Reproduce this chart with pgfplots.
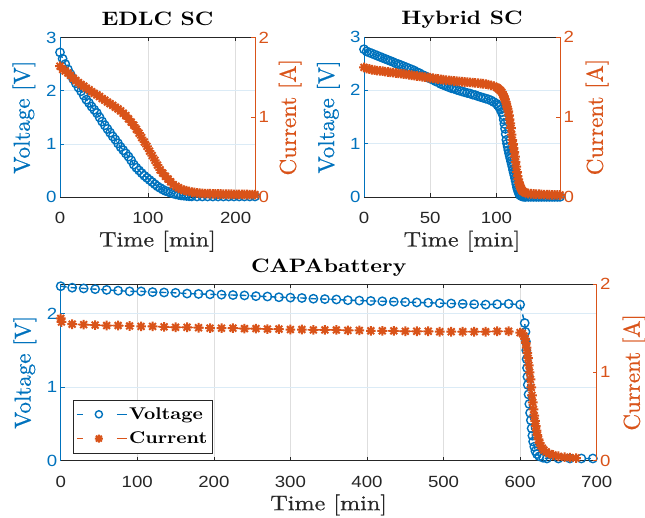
\documentclass[border=0pt]{standalone}
\usepackage{fontspec}
\setmainfont{lmroman10-regular.otf}[BoldFont=lmroman10-bold.otf, FakeStretch=1.15, UprightFeatures={FakeBold=0.6}]
\newfontfamily\vlm{lmroman10-regular.otf}[FakeBold=0.6]
\setsansfont{Liberation Sans}[FakeStretch=1.15]
\usepackage{pgfplots}
\pgfplotsset{compat=1.18}
\definecolor{mblue}{rgb}{0,0.447,0.741}
\definecolor{morange}{rgb}{0.85,0.325,0.098}
\definecolor{mgray}{rgb}{0.15,0.15,0.15}
\pgfdeclareplotmark{mstar}{%
  \pgfpathmoveto{\pgfqpoint{-\pgfplotmarksize}{0pt}}\pgfpathlineto{\pgfqpoint{\pgfplotmarksize}{0pt}}%
  \pgfpathmoveto{\pgfqpoint{0pt}{-\pgfplotmarksize}}\pgfpathlineto{\pgfqpoint{0pt}{\pgfplotmarksize}}%
  \pgfpathmoveto{\pgfqpoint{-.707\pgfplotmarksize}{-.707\pgfplotmarksize}}\pgfpathlineto{\pgfqpoint{.707\pgfplotmarksize}{.707\pgfplotmarksize}}%
  \pgfpathmoveto{\pgfqpoint{-.707\pgfplotmarksize}{.707\pgfplotmarksize}}\pgfpathlineto{\pgfqpoint{.707\pgfplotmarksize}{-.707\pgfplotmarksize}}%
  \pgfusepathqstroke}
\pgfplotsset{
  base/.style={scale only axis, anchor=south west, clip=true,
    tick align=inside, major tick length=4pt,
    /pgf/number format/assume math mode=true,
    ticklabel style={font=\sffamily\fontsize{16.2}{16.2}\selectfont},
    xticklabel shift=12pt,
    xlabel style={font=\fontsize{21}{22}\selectfont, at={(axis description cs:0.5,0)}, anchor=base, yshift=-49.5pt, text=mgray},
    ylabel style={font=\vlm\fontsize{23}{24}\selectfont},
    title style={font=\bfseries\fontsize{19.4}{20}\selectfont, at={(axis description cs:0.5,1)}, anchor=base, yshift=6pt},
  },
  leftax/.style={base, axis x line*=box, axis y line*=left,
    x axis line style={mgray, line width=0.6pt}, y axis line style={mblue, line width=0.6pt},
    xtick style={mgray, line width=0.6pt}, ytick style={mblue, line width=0.6pt},
    xticklabel style={text=mgray}, yticklabel style={text=mblue},
    ylabel style={text=mblue, rotate=0},
    grid=major, x grid style={black!13, line width=0.5pt}, y grid style={mblue!14, line width=0.5pt}},
  rightax/.style={base, axis x line=none, axis y line*=right,
    y axis line style={morange, line width=0.6pt}, ytick style={morange, line width=0.6pt},
    yticklabel style={text=morange}, ylabel style={text=morange, rotate=0},
    ymin=0, ymax=2, ytick={0,1,2}},
  vstyle/.style={mblue, line width=1.4pt, dash pattern=on 6pt off 4pt, mark=o, mark size=4.2pt, mark options={solid, line width=1.4pt}},
  istyle/.style={morange, line width=1.4pt, dash pattern=on 6pt off 4pt, mark=mstar, mark size=4.8pt, mark options={solid, line width=2pt}},
}
\begin{document}
\begin{tikzpicture}
\useasboundingbox (0,0) rectangle (645pt,517pt);
% ---------------- EDLC SC ----------------
\begin{axis}[leftax, at={(60pt,320pt)}, width=195pt, height=159.5pt,
  xmin=0, xmax=222, ymin=0, ymax=3, xtick={0,100,200}, ytick={0,1,2,3},
  title={EDLC SC}, xlabel={Time [min]}, ylabel={Voltage [V]},
  ylabel style={at={(axis description cs:-0.185,0.5)}, anchor=center}]
\addplot[vstyle] coordinates {
(0,2.72)(3,2.60)(6,2.50)(9,2.40)(12,2.31)(15,2.22)(18,2.14)(21,2.06)(24,1.99)(27,1.91)
(30,1.83)(33,1.77)(36,1.70)(39,1.64)(42,1.58)(45,1.50)(48,1.42)(51,1.35)(54,1.28)(57,1.21)
(60,1.14)(63,1.08)(66,1.01)(69,0.94)(72,0.88)(75,0.82)(78,0.76)(81,0.69)(84,0.61)(87,0.55)
(90,0.50)(93,0.45)(96,0.40)(99,0.36)(102,0.32)(105,0.28)(108,0.24)(111,0.20)(114,0.17)(117,0.14)
(120,0.115)(123,0.10)(126,0.08)(129,0.065)(132,0.05)(135,0.04)(138,0.03)(141,0.025)(144,0.02)(147,0.015)
(150,0.012)(156,0.01)(162,0.01)(168,0.01)(174,0.01)(180,0.01)(186,0.01)(192,0.01)(198,0.01)(204,0.01)
(210,0.01)(216,0.01)(222,0.01)};
\end{axis}
\begin{axis}[rightax, at={(60pt,320pt)}, width=195pt, height=159.5pt,
  xmin=0, xmax=222, ylabel={Current [A]},
  ylabel style={at={(axis description cs:1.18,0.5)}, anchor=center}]
\addplot[istyle] coordinates {
(0,1.64)(3,1.60)(6,1.58)(9,1.555)(12,1.525)(15,1.49)(18,1.46)(21,1.435)(24,1.41)(27,1.39)
(30,1.365)(33,1.345)(36,1.32)(39,1.30)(42,1.28)(45,1.26)(48,1.235)(51,1.215)(54,1.19)(57,1.17)
(60,1.15)(63,1.125)(66,1.105)(69,1.08)(72,1.05)(75,1.02)(78,0.98)(81,0.94)(84,0.90)(87,0.85)
(90,0.80)(93,0.745)(96,0.69)(99,0.635)(102,0.575)(105,0.52)(108,0.46)(111,0.40)(114,0.34)(117,0.30)
(120,0.26)(123,0.225)(126,0.19)(129,0.155)(132,0.135)(135,0.115)(138,0.097)(141,0.087)(144,0.078)(147,0.07)
(150,0.062)(153,0.056)(156,0.052)(159,0.049)(162,0.046)(165,0.043)(168,0.042)(171,0.041)(174,0.04)(177,0.039)
(180,0.038)(183,0.037)(186,0.036)(189,0.035)(192,0.035)(195,0.034)(198,0.033)(201,0.033)(204,0.032)(207,0.032)
(210,0.031)(213,0.031)(216,0.03)(219,0.03)(222,0.03)};
\end{axis}
% ---------------- Hybrid SC ----------------
\begin{axis}[leftax, at={(364pt,320pt)}, width=196pt, height=160pt,
  xmin=0, xmax=148, ymin=0, ymax=3, xtick={0,50,100}, ytick={0,1,2,3},
  title={Hybrid SC}, xlabel={Time [min]}, ylabel={Voltage [V]},
  ylabel style={at={(axis description cs:-0.182,0.5)}, anchor=center}]
\addplot[vstyle] coordinates {
(0,2.77)(2,2.73)(4,2.71)(6,2.69)(8,2.67)(10,2.65)(12,2.63)(14,2.61)(16,2.59)(18,2.57)
(20,2.55)(22,2.53)(24,2.505)(26,2.49)(28,2.47)(30,2.45)(32,2.43)(34,2.41)(36,2.39)(38,2.37)
(40,2.34)(42,2.32)(44,2.29)(46,2.27)(48,2.245)(50,2.22)(52,2.20)(54,2.17)(56,2.15)(58,2.12)
(60,2.10)(62,2.08)(64,2.06)(66,2.04)(68,2.03)(70,2.01)(72,1.995)(74,1.98)(76,1.965)(78,1.95)
(80,1.94)(82,1.92)(84,1.91)(86,1.89)(88,1.875)(90,1.86)(92,1.845)(94,1.83)(96,1.81)(98,1.78)
(100,1.75)(101,1.72)(102,1.69)(103,1.64)(104,1.59)(105,1.53)(105.5,1.45)(106,1.37)(106.5,1.28)(107,1.18)
(107.5,1.07)(108,1.00)(108.5,0.94)(109,0.88)(109.5,0.82)(110,0.77)(110.5,0.72)(111,0.67)(111.5,0.62)(112,0.57)
(112.5,0.51)(113,0.46)(113.5,0.41)(114,0.355)(114.5,0.30)(115,0.24)(115.5,0.18)(116,0.14)(116.5,0.10)(117,0.07)
(117.5,0.045)(118,0.03)(119,0.015)(120,0.008)(121,0.004)(122,0.003)(124,0.003)(126,0.003)(128,0.003)(130,0.003)
(132,0.003)(134,0.003)(136,0.003)(138,0.003)(140,0.003)(142,0.003)(144,0.003)(146,0.003)(148,0.003)};
\end{axis}
\begin{axis}[rightax, at={(364pt,320pt)}, width=196pt, height=160pt,
  xmin=0, xmax=148, ylabel={Current [A]},
  ylabel style={at={(axis description cs:1.189,0.5)}, anchor=center}]
\addplot[istyle] coordinates {
(0,1.62)(2,1.605)(4,1.60)(6,1.59)(8,1.585)(10,1.58)(12,1.577)(14,1.573)(16,1.568)(18,1.563)
(20,1.558)(22,1.554)(24,1.55)(26,1.546)(28,1.542)(30,1.537)(32,1.532)(34,1.527)(36,1.522)(38,1.518)
(40,1.513)(42,1.508)(44,1.503)(46,1.499)(48,1.494)(50,1.49)(52,1.485)(54,1.48)(56,1.475)(58,1.47)
(60,1.465)(62,1.46)(64,1.457)(66,1.454)(68,1.45)(70,1.447)(72,1.444)(74,1.441)(76,1.438)(78,1.435)
(80,1.432)(82,1.429)(84,1.426)(86,1.423)(88,1.419)(90,1.415)(92,1.41)(94,1.404)(96,1.396)(98,1.385)
(100,1.37)(101,1.36)(102,1.345)(103,1.33)(104,1.31)(105,1.28)(105.5,1.26)(106,1.24)(106.5,1.22)(107,1.19)
(107.5,1.16)(108,1.13)(108.5,1.10)(109,1.07)(109.5,1.02)(110,0.97)(110.5,0.92)(111,0.86)(111.5,0.78)(112,0.71)
(112.5,0.66)(113,0.61)(113.5,0.56)(114,0.505)(114.5,0.44)(115,0.38)(115.5,0.31)(116,0.26)(116.5,0.22)(117,0.18)
(117.5,0.155)(118,0.13)(118.5,0.11)(119,0.09)(119.5,0.08)(120,0.07)(121,0.06)(122,0.052)(124,0.044)(126,0.04)
(128,0.037)(130,0.035)(132,0.034)(134,0.032)(136,0.03)(138,0.029)(140,0.028)(142,0.027)(144,0.026)(146,0.026)(148,0.025)};
\end{axis}
% ---------------- CAPAbattery ----------------
\begin{axis}[leftax, at={(60.7pt,56.3pt)}, width=536pt, height=176.7pt,
  xmin=0, xmax=700, ymin=0, ymax=2.4, xtick={0,100,...,700}, ytick={0,1,2},
  title={CAPAbattery}, xlabel={Time [min]}, ylabel={Voltage [V]},
  ylabel style={at={(axis description cs:-0.067,0.5)}, anchor=center}]
\addplot[vstyle] coordinates {
(0,2.37)(15,2.35)(30,2.34)(45,2.33)(60,2.32)(75,2.31)(90,2.30)(105,2.30)(120,2.29)(135,2.285)
(150,2.28)(165,2.27)(180,2.265)(195,2.26)(210,2.255)(225,2.25)(240,2.245)(255,2.235)(270,2.23)(285,2.22)
(300,2.215)(315,2.21)(330,2.20)(345,2.195)(360,2.19)(375,2.18)(390,2.175)(405,2.17)(420,2.165)(435,2.16)
(450,2.155)(465,2.15)(480,2.145)(495,2.14)(510,2.135)(525,2.13)(540,2.125)(555,2.12)(570,2.125)(585,2.13)
(600,2.12)(606,1.87)(607,1.75)(607.5,1.62)(608,1.50)(608.5,1.38)(609,1.26)(609.5,1.14)(610,1.03)(611,0.90)
(612,0.77)(613,0.65)(614,0.55)(615,0.44)(616,0.34)(617,0.26)(618.5,0.19)(620,0.13)(622,0.09)(625,0.06)
(630,0.04)(635,0.03)(650,0.03)(665,0.03)(680,0.03)(695,0.03)};
\end{axis}
\begin{axis}[rightax, at={(60.7pt,56.3pt)}, width=536pt, height=176.7pt,
  xmin=0, xmax=700, ylabel={Current [A]},
  ylabel style={at={(axis description cs:1.0696,0.5)}, anchor=center},
  legend cell align=left,
  legend style={at={(0.0229,0.0436)}, anchor=south west, draw=mgray, fill=white,
    font=\bfseries\fontsize{17}{18}\selectfont, inner xsep=3pt, inner ysep=6pt, row sep=8pt,
    nodes={inner sep=1.5pt}},
  legend image code/.code={
    \draw[#1, solid] (0pt,0pt) -- (6pt,0pt);
    \draw[#1, solid] (40pt,0pt) -- (50pt,0pt);
    \draw[#1, only marks, every mark/.append style={scale=0.85}] plot coordinates {(22pt,0pt)};
  }]
\addlegendimage{vstyle}
\addlegendentry{Voltage}
\addplot[istyle] coordinates {
(0,1.61)(1,1.57)(15,1.545)(30,1.54)(45,1.535)(60,1.53)(75,1.53)(90,1.525)(105,1.52)(120,1.52)
(135,1.515)(150,1.51)(165,1.51)(180,1.505)(195,1.50)(210,1.50)(225,1.50)(240,1.495)(255,1.495)(270,1.49)
(285,1.49)(300,1.485)(315,1.485)(330,1.48)(345,1.48)(360,1.48)(375,1.475)(390,1.475)(405,1.47)(420,1.47)
(435,1.47)(450,1.465)(465,1.465)(480,1.465)(495,1.46)(510,1.46)(525,1.46)(540,1.46)(555,1.46)(570,1.465)
(585,1.465)(600,1.45)(603,1.44)(605,1.41)(606.5,1.38)(607.5,1.33)(608.5,1.28)(609.5,1.22)(610.5,1.16)(611.5,1.08)
(612.5,1.00)(613.5,0.92)(614.5,0.83)(615.5,0.74)(616.5,0.66)(617.5,0.58)(618.5,0.51)(619.5,0.45)(620.5,0.39)(621.5,0.34)
(622.5,0.29)(624,0.24)(625.5,0.20)(627,0.17)(629,0.14)(631,0.12)(634,0.10)(638,0.08)(643,0.065)(650,0.05)
(658,0.04)(665,0.035)(673,0.03)};
\addlegendentry{Current}
\end{axis}
\end{tikzpicture}
\end{document}
